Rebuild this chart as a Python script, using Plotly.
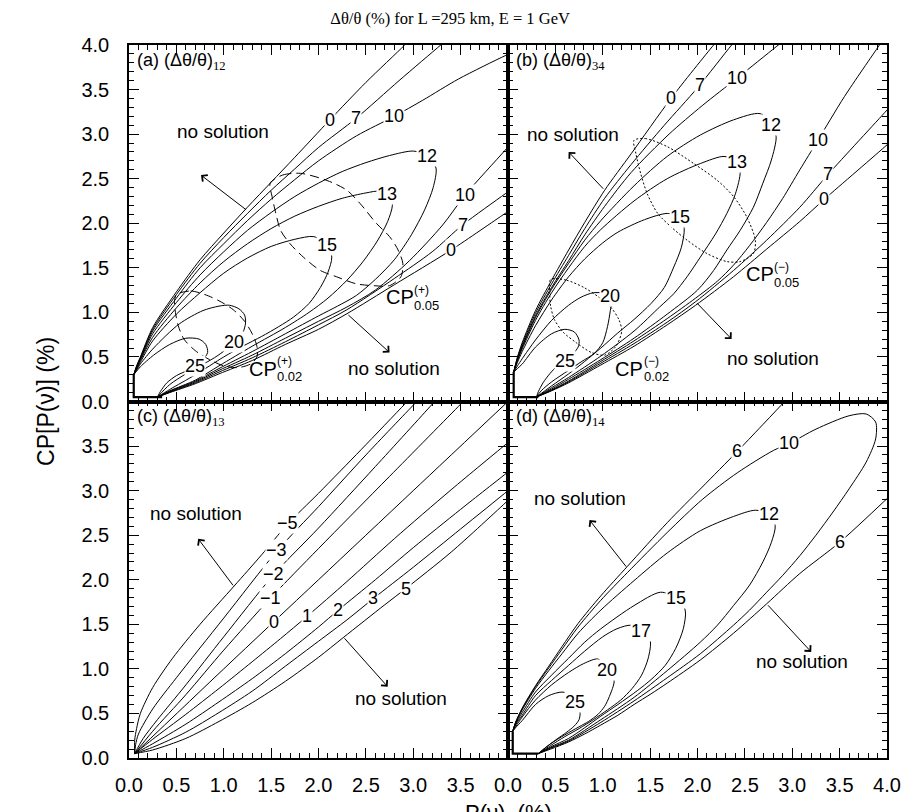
import plotly.graph_objects as go
from plotly.subplots import make_subplots

SANS = "Liberation Sans"
SERIF = "Liberation Serif"

# ---------------- panel (a): (Δθ/θ)12 ----------------
a_up0_x = [0.05, 0.08, 0.12, 0.25, 0.50, 0.75, 1.00, 1.25, 1.50, 1.75, 2.12, 2.50, 2.91, 3.00]
a_up0_y = [0.30, 0.40, 0.50, 0.83, 1.23, 1.59, 1.89, 2.18, 2.46, 2.74, 3.16, 3.58, 4.00, 4.10]
a_up7_x = [0.05, 0.08, 0.12, 0.25, 0.50, 0.75, 1.00, 1.25, 1.50, 1.75, 2.00, 2.40, 2.85, 3.29, 3.40]
a_up7_y = [0.30, 0.39, 0.49, 0.81, 1.20, 1.55, 1.84, 2.11, 2.37, 2.61, 2.85, 3.18, 3.60, 4.00, 4.10]
a_up10_x = [0.05, 0.08, 0.12, 0.25, 0.50, 0.75, 1.00, 1.25, 1.50, 1.75, 2.00, 2.40, 2.80, 3.10, 3.48, 3.97, 4.10]
a_up10_y = [0.30, 0.39, 0.48, 0.79, 1.16, 1.50, 1.77, 2.03, 2.27, 2.49, 2.70, 2.98, 3.20, 3.38, 3.62, 3.88, 3.94]
a_lo0_x = [0.30, 0.43, 0.70, 0.95, 1.30, 1.65, 2.00, 2.30, 2.80, 3.40, 3.97, 4.10]
a_lo0_y = [0.05, 0.10, 0.20, 0.31, 0.46, 0.64, 0.81, 0.985, 1.31, 1.70, 2.11, 2.20]
a_lo7_x = [0.30, 0.43, 0.70, 0.95, 1.30, 1.65, 2.00, 2.30, 2.80, 3.20, 3.52, 3.97, 4.10]
a_lo7_y = [0.05, 0.105, 0.21, 0.33, 0.49, 0.67, 0.86, 1.03, 1.38, 1.68, 1.98, 2.33, 2.43]
a_lo10_x = [0.30, 0.43, 0.70, 0.95, 1.30, 1.65, 2.00, 2.30, 2.60, 2.96, 3.31, 3.55, 3.97, 4.10]
a_lo10_y = [0.05, 0.11, 0.22, 0.35, 0.52, 0.71, 0.90, 1.06, 1.25, 1.58, 1.98, 2.32, 2.82, 2.98]
a_12_x = [0.05, 0.08, 0.12, 0.25, 0.50, 0.75, 1.00, 1.25, 1.50, 1.75, 2.00, 2.25, 2.50, 2.75, 3.00, 3.15,
          3.24, 3.21, 3.12, 2.98, 2.80, 2.60, 2.40, 2.20, 2.00, 1.65, 1.30, 0.95, 0.70, 0.43, 0.30]
a_12_y = [0.30, 0.38, 0.47, 0.76, 1.11, 1.42, 1.68, 1.92, 2.12, 2.30, 2.45, 2.58, 2.68, 2.76, 2.81, 2.76,
          2.62, 2.40, 2.15, 1.87, 1.59, 1.37, 1.19, 1.07, 0.96, 0.76, 0.56, 0.37, 0.23, 0.115, 0.05]
a_13_x = [0.05, 0.08, 0.12, 0.25, 0.50, 0.75, 1.00, 1.25, 1.50, 1.75, 2.00, 2.25, 2.50, 2.65, 2.76,
          2.78, 2.73, 2.62, 2.47, 2.30, 2.10, 1.90, 1.65, 1.30, 0.95, 0.70, 0.43, 0.30]
a_13_y = [0.30, 0.37, 0.46, 0.72, 1.05, 1.33, 1.57, 1.77, 1.94, 2.08, 2.19, 2.28, 2.34, 2.36, 2.30,
          2.20, 2.02, 1.80, 1.57, 1.36, 1.16, 1.00, 0.83, 0.62, 0.40, 0.24, 0.12, 0.05]
a_15_x = [0.05, 0.08, 0.12, 0.25, 0.50, 0.75, 1.00, 1.25, 1.50, 1.75, 1.95, 2.09, 2.14, 2.10, 2.02,
          1.90, 1.74, 1.58, 1.40, 1.20, 1.00, 0.70, 0.43, 0.30]
a_15_y = [0.30, 0.36, 0.44, 0.68, 0.98, 1.22, 1.44, 1.61, 1.74, 1.82, 1.85, 1.76, 1.62, 1.45, 1.28,
          1.10, 0.95, 0.84, 0.73, 0.62, 0.50, 0.30, 0.135, 0.05]
a_20_x = [0.05, 0.08, 0.12, 0.26, 0.53, 0.78, 0.95, 1.06, 1.16, 1.22, 1.23, 1.20, 1.11, 1.02, 0.90,
          0.75, 0.60, 0.43, 0.30]
a_20_y = [0.30, 0.35, 0.42, 0.60, 0.87, 1.02, 1.07, 1.08, 1.04, 0.97, 0.88, 0.77, 0.67, 0.58, 0.49,
          0.40, 0.31, 0.19, 0.05]
a_25_x = [0.05, 0.08, 0.12, 0.26, 0.43, 0.60, 0.74, 0.81, 0.83, 0.78, 0.70, 0.62, 0.50, 0.40, 0.33, 0.30]
a_25_y = [0.30, 0.34, 0.39, 0.52, 0.64, 0.71, 0.70, 0.64, 0.55, 0.47, 0.40, 0.35, 0.29, 0.21, 0.11, 0.05]
a_corner_x = [0.35, 0.05, 0.05]
a_corner_y = [0.05, 0.05, 0.30]
a_cp05_x = [1.49, 1.62, 1.81, 2.09, 2.30, 2.44, 2.61, 2.75, 2.84, 2.89, 2.87, 2.75, 2.58, 2.40, 2.19,
            2.02, 1.84, 1.70, 1.60, 1.55, 1.51, 1.49]
a_cp05_y = [2.45, 2.54, 2.56, 2.48, 2.37, 2.22, 2.00, 1.85, 1.70, 1.55, 1.40, 1.30, 1.30, 1.32, 1.40,
            1.47, 1.62, 1.77, 1.92, 2.11, 2.30, 2.45]
a_cp02_x = [0.50, 0.65, 0.80, 0.95, 1.10, 1.22, 1.30, 1.35, 1.35, 1.28, 1.15, 1.00, 0.85, 0.70, 0.58,
            0.52, 0.49, 0.48, 0.50]
a_cp02_y = [1.20, 1.24, 1.20, 1.13, 1.03, 0.90, 0.76, 0.62, 0.50, 0.42, 0.38, 0.40, 0.47, 0.57, 0.70,
            0.85, 1.00, 1.12, 1.20]
a_lab_text = ["0", "7", "10", "12", "13", "15", "10", "7", "0", "20", "25"]
a_lab_x = [2.12, 2.40, 2.80, 3.15, 2.72, 2.09, 3.55, 3.52, 3.40, 1.11, 0.70]
a_lab_y = [3.16, 3.18, 3.20, 2.76, 2.33, 1.76, 2.32, 1.98, 1.70, 0.67, 0.40]

# ---------------- panel (b): (Δθ/θ)34 ----------------
b_up0_x = [0.06, 0.10, 0.15, 0.29, 0.46, 0.64, 0.81, 1.02, 1.30, 1.72, 2.17, 2.25]
b_up0_y = [0.33, 0.50, 0.66, 1.02, 1.36, 1.70, 2.01, 2.37, 2.78, 3.40, 4.00, 4.10]
b_up7_x = [0.06, 0.10, 0.15, 0.29, 0.46, 0.64, 0.81, 1.02, 1.30, 1.65, 2.00, 2.36, 2.44]
b_up7_y = [0.33, 0.49, 0.64, 0.99, 1.32, 1.64, 1.94, 2.28, 2.66, 3.10, 3.52, 4.00, 4.10]
b_up10_x = [0.06, 0.10, 0.15, 0.29, 0.46, 0.64, 0.81, 1.02, 1.30, 1.70, 2.05, 2.42, 2.83, 2.95]
b_up10_y = [0.33, 0.48, 0.62, 0.96, 1.28, 1.58, 1.87, 2.19, 2.57, 3.00, 3.32, 3.63, 3.98, 4.08]
b_lo0_x = [0.30, 0.46, 0.64, 0.98, 1.33, 1.68, 1.98, 2.38, 2.73, 3.08, 3.34, 4.00, 4.10]
b_lo0_y = [0.05, 0.12, 0.21, 0.41, 0.62, 0.86, 1.08, 1.40, 1.71, 2.02, 2.27, 2.88, 2.98]
b_lo7_x = [0.30, 0.46, 0.64, 0.98, 1.33, 1.68, 1.98, 2.38, 2.73, 3.08, 3.38, 4.00, 4.10]
b_lo7_y = [0.05, 0.125, 0.22, 0.43, 0.65, 0.89, 1.12, 1.47, 1.81, 2.18, 2.55, 3.27, 3.39]
b_lo10_x = [0.30, 0.46, 0.64, 0.98, 1.33, 1.68, 1.98, 2.21, 2.38, 2.55, 2.73, 2.90, 3.08, 3.27, 3.55, 3.92, 4.00]
b_lo10_y = [0.05, 0.13, 0.23, 0.45, 0.68, 0.93, 1.16, 1.35, 1.53, 1.75, 2.01, 2.28, 2.60, 2.93, 3.42, 4.00, 4.13]
b_12_x = [0.06, 0.10, 0.15, 0.29, 0.46, 0.64, 0.81, 0.98, 1.33, 1.68, 2.03, 2.38, 2.66, 2.78, 2.83,
          2.78, 2.69, 2.59, 2.45, 2.31, 2.17, 2.00, 1.68, 1.33, 0.98, 0.64, 0.46, 0.30]
b_12_y = [0.33, 0.47, 0.61, 0.94, 1.26, 1.55, 1.81, 2.03, 2.42, 2.75, 2.99, 3.16, 3.23, 3.12, 2.97,
          2.71, 2.45, 2.18, 1.92, 1.70, 1.47, 1.25, 0.98, 0.71, 0.47, 0.25, 0.14, 0.05]
b_13_x = [0.06, 0.10, 0.15, 0.29, 0.46, 0.64, 0.81, 0.98, 1.33, 1.68, 2.03, 2.28, 2.40, 2.45, 2.40,
          2.31, 2.19, 2.03, 1.89, 1.75, 1.60, 1.33, 0.98, 0.64, 0.46, 0.30]
b_13_y = [0.33, 0.46, 0.59, 0.91, 1.22, 1.50, 1.74, 1.93, 2.25, 2.50, 2.67, 2.75, 2.70, 2.58, 2.33,
          2.11, 1.88, 1.62, 1.40, 1.21, 1.06, 0.79, 0.51, 0.27, 0.155, 0.05]
b_15_x = [0.06, 0.10, 0.15, 0.29, 0.46, 0.64, 0.81, 1.00, 1.16, 1.44, 1.68, 1.82, 1.86, 1.83, 1.75,
          1.65, 1.51, 1.33, 1.16, 0.98, 0.81, 0.64, 0.46, 0.30]
b_15_y = [0.33, 0.44, 0.56, 0.85, 1.14, 1.40, 1.60, 1.78, 1.90, 2.04, 2.11, 2.07, 1.94, 1.73, 1.51,
          1.28, 1.10, 0.92, 0.77, 0.60, 0.45, 0.31, 0.175, 0.05]
b_20_x = [0.06, 0.10, 0.15, 0.29, 0.46, 0.64, 0.77, 0.90, 1.02, 1.09, 1.08, 1.05, 1.00, 0.91, 0.78,
          0.64, 0.46, 0.35, 0.30]
b_20_y = [0.33, 0.40, 0.48, 0.69, 0.91, 1.08, 1.17, 1.22, 1.21, 1.13, 1.02, 0.84, 0.66, 0.54, 0.45,
          0.35, 0.22, 0.12, 0.05]
b_25_x = [0.06, 0.10, 0.15, 0.29, 0.46, 0.60, 0.70, 0.75, 0.74, 0.68, 0.60, 0.52, 0.44, 0.37, 0.32, 0.30]
b_25_y = [0.33, 0.37, 0.42, 0.61, 0.76, 0.81, 0.78, 0.69, 0.61, 0.53, 0.46, 0.40, 0.31, 0.21, 0.11, 0.05]
b_corner_x = [0.32, 0.06, 0.06]
b_corner_y = [0.05, 0.05, 0.33]
b_cp05_x = [1.33, 1.45, 1.68, 1.96, 2.21, 2.38, 2.52, 2.61, 2.59, 2.45, 2.31, 2.10, 1.89, 1.72, 1.58,
            1.47, 1.40, 1.35, 1.33]
b_cp05_y = [2.93, 2.95, 2.86, 2.67, 2.48, 2.30, 2.07, 1.81, 1.66, 1.57, 1.57, 1.66, 1.81, 1.96, 2.11,
            2.33, 2.56, 2.78, 2.93]
b_cp02_x = [0.45, 0.62, 0.80, 0.96, 1.09, 1.17, 1.20, 1.14, 1.02, 0.88, 0.72, 0.58, 0.49, 0.45, 0.44, 0.45]
b_cp02_y = [1.37, 1.36, 1.28, 1.17, 1.05, 0.92, 0.79, 0.62, 0.52, 0.55, 0.66, 0.78, 0.92, 1.07, 1.22, 1.37]
b_lab_text = ["0", "7", "10", "12", "13", "15", "20", "25", "10", "7", "0"]
b_lab_x = [1.72, 2.03, 2.42, 2.78, 2.42, 1.82, 1.08, 0.60, 3.27, 3.38, 3.34]
b_lab_y = [3.40, 3.55, 3.63, 3.10, 2.69, 2.07, 1.18, 0.46, 2.93, 2.55, 2.27]

# ---------------- panel (c): (Δθ/θ)13 ----------------
c_m5_x = [0.06, 0.06, 0.08, 0.12, 0.25, 0.46, 0.75, 1.11, 1.40, 1.67, 2.00, 2.45, 2.91, 3.00]
c_m5_y = [0.05, 0.20, 0.33, 0.50, 0.79, 1.12, 1.50, 1.93, 2.28, 2.62, 2.97, 3.46, 3.97, 4.07]
c_m3_x = [0.06, 0.07, 0.10, 0.25, 0.50, 1.00, 1.56, 2.00, 2.50, 3.01, 3.10]
c_m3_y = [0.05, 0.15, 0.27, 0.55, 0.90, 1.57, 2.32, 2.82, 3.40, 3.97, 4.07]
c_m2_x = [0.06, 0.15, 0.30, 0.60, 1.00, 1.53, 2.00, 2.60, 3.20, 3.30]
c_m2_y = [0.05, 0.22, 0.43, 0.82, 1.36, 2.06, 2.58, 3.27, 3.97, 4.09]
c_m1_x = [0.06, 0.25, 0.60, 1.00, 1.49, 2.00, 2.75, 3.50, 3.60]
c_m1_y = [0.05, 0.30, 0.71, 1.21, 1.79, 2.35, 3.16, 3.97, 4.08]
c_0_x = [0.06, 1.00, 2.00, 3.00, 4.05]
c_0_y = [0.05, 1.00, 2.00, 3.00, 4.05]
c_1_x = [0.06, 0.25, 0.60, 0.95, 1.30, 1.60, 1.88, 2.30, 2.80, 3.40, 4.00, 4.10]
c_1_y = [0.05, 0.21, 0.49, 0.78, 1.08, 1.34, 1.59, 1.98, 2.46, 3.01, 3.54, 3.63]
c_2_x = [0.06, 0.25, 0.60, 0.95, 1.30, 1.65, 2.00, 2.21, 2.60, 3.00, 3.50, 4.00, 4.10]
c_2_y = [0.05, 0.16, 0.38, 0.63, 0.89, 1.17, 1.47, 1.66, 2.00, 2.36, 2.79, 3.21, 3.30]
c_3_x = [0.06, 0.25, 0.60, 0.95, 1.30, 1.65, 2.00, 2.30, 2.58, 3.00, 3.50, 4.00, 4.10]
c_3_y = [0.05, 0.12, 0.29, 0.51, 0.75, 1.03, 1.31, 1.55, 1.79, 2.14, 2.57, 3.00, 3.09]
c_5_x = [0.06, 0.25, 0.60, 0.95, 1.30, 1.65, 2.00, 2.26, 2.70, 2.92, 3.40, 4.00, 4.10]
c_5_y = [0.05, 0.09, 0.22, 0.41, 0.62, 0.86, 1.13, 1.35, 1.72, 1.90, 2.31, 2.89, 2.99]
c_lab_text = ["\u22125", "\u22123", "\u22122", "\u22121", "0", "1", "2", "3", "5"]
c_lab_x = [1.67, 1.56, 1.53, 1.49, 1.53, 1.88, 2.21, 2.58, 2.92]
c_lab_y = [2.64, 2.33, 2.07, 1.80, 1.53, 1.59, 1.66, 1.79, 1.90]

# ---------------- panel (d): (Δθ/θ)14 ----------------
d_up6_x = [0.05, 0.08, 0.15, 0.29, 0.43, 0.57, 0.74, 0.98, 1.26, 1.68, 2.05, 2.42, 2.92, 3.00]
d_up6_y = [0.30, 0.40, 0.56, 0.81, 1.03, 1.25, 1.51, 1.82, 2.15, 2.64, 3.04, 3.44, 4.00, 4.09]
d_lo6_x = [0.32, 0.45, 0.64, 0.81, 0.98, 1.16, 1.33, 1.51, 1.68, 2.03, 2.38, 2.73, 3.08, 3.50, 4.00, 4.10]
d_lo6_y = [0.05, 0.10, 0.18, 0.27, 0.37, 0.48, 0.60, 0.72, 0.84, 1.10, 1.40, 1.73, 2.07, 2.42, 2.91, 3.01]
d_10_x = [0.05, 0.08, 0.15, 0.29, 0.43, 0.57, 0.74, 0.98, 1.26, 1.68, 2.05, 2.42, 2.80, 2.97, 3.25,
          3.60, 3.78, 3.88, 3.88, 3.78, 3.60, 3.43, 3.25, 3.08, 2.90, 2.73, 2.55, 2.38, 2.03, 1.68,
          1.33, 0.98, 0.64, 0.45, 0.32]
d_10_y = [0.30, 0.40, 0.55, 0.80, 1.01, 1.22, 1.47, 1.77, 2.08, 2.53, 2.90, 3.20, 3.45, 3.53, 3.69,
          3.84, 3.86, 3.77, 3.58, 3.32, 3.02, 2.76, 2.50, 2.27, 2.05, 1.86, 1.66, 1.49, 1.17, 0.90,
          0.64, 0.40, 0.19, 0.11, 0.05]
d_12_x = [0.05, 0.08, 0.15, 0.29, 0.43, 0.57, 0.74, 0.98, 1.33, 1.68, 2.03, 2.38, 2.61, 2.75, 2.82,
          2.78, 2.69, 2.55, 2.38, 2.21, 2.03, 1.68, 1.33, 0.98, 0.64, 0.45, 0.32]
d_12_y = [0.30, 0.39, 0.54, 0.78, 0.98, 1.17, 1.40, 1.66, 1.99, 2.30, 2.55, 2.71, 2.78, 2.74, 2.61,
          2.42, 2.20, 1.94, 1.71, 1.49, 1.30, 0.98, 0.68, 0.43, 0.20, 0.115, 0.05]
d_15_x = [0.05, 0.08, 0.15, 0.29, 0.46, 0.64, 0.81, 0.98, 1.33, 1.61, 1.77, 1.87, 1.85, 1.77, 1.66,
          1.51, 1.37, 1.16, 0.98, 0.81, 0.64, 0.45, 0.32]
d_15_y = [0.30, 0.38, 0.51, 0.74, 0.93, 1.12, 1.30, 1.45, 1.71, 1.86, 1.80, 1.66, 1.45, 1.23, 1.04,
          0.88, 0.76, 0.60, 0.47, 0.34, 0.22, 0.125, 0.05]
d_17_x = [0.05, 0.08, 0.15, 0.29, 0.46, 0.64, 0.81, 1.00, 1.15, 1.30, 1.40, 1.50, 1.48, 1.41, 1.31,
          1.19, 1.05, 0.90, 0.75, 0.60, 0.45, 0.32]
d_17_y = [0.30, 0.37, 0.48, 0.70, 0.87, 1.04, 1.20, 1.36, 1.45, 1.49, 1.43, 1.32, 1.12, 0.93, 0.78,
          0.65, 0.54, 0.43, 0.33, 0.24, 0.14, 0.05]
d_20_x = [0.05, 0.08, 0.15, 0.29, 0.46, 0.64, 0.80, 0.95, 1.05, 1.12, 1.07, 1.02, 0.95, 0.85, 0.75,
          0.60, 0.45, 0.32]
d_20_y = [0.30, 0.35, 0.46, 0.65, 0.82, 0.96, 1.06, 1.11, 0.99, 0.87, 0.69, 0.58, 0.49, 0.41, 0.35,
          0.26, 0.16, 0.05]
d_25_x = [0.05, 0.08, 0.15, 0.29, 0.43, 0.57, 0.66, 0.71, 0.76, 0.75, 0.70, 0.62, 0.50, 0.40, 0.32]
d_25_y = [0.30, 0.34, 0.42, 0.60, 0.70, 0.74, 0.71, 0.63, 0.52, 0.43, 0.36, 0.29, 0.20, 0.12, 0.05]
d_corner_x = [0.32, 0.05, 0.05]
d_corner_y = [0.05, 0.05, 0.30]
d_lab_text = ["6", "10", "12", "6", "15", "17", "20", "25"]
d_lab_x = [2.42, 2.97, 2.75, 3.50, 1.77, 1.40, 1.05, 0.71]
d_lab_y = [3.44, 3.53, 2.74, 2.42, 1.80, 1.43, 0.99, 0.63]

# "no solution" notes and their arrows (tail -> head)
note_panel = ["a", "a", "b", "b", "c", "c", "d", "d"]
note_x = [0.99, 2.80, 0.69, 2.80, 0.71, 2.87, 0.76, 3.10]
note_y = [3.03, 0.37, 3.00, 0.48, 2.74, 0.67, 2.91, 1.08]
arrow_tail_x = [1.25, 2.30, 1.02, 1.98, 1.11, 2.26, 1.26, 2.73]
arrow_tail_y = [2.14, 0.985, 2.37, 1.12, 1.92, 1.36, 2.13, 1.73]
arrow_head_x = [0.76, 2.75, 0.64, 2.36, 0.73, 2.73, 0.86, 3.20]
arrow_head_y = [2.54, 0.55, 2.80, 0.70, 2.46, 0.80, 2.67, 1.19]

TICK_VALS = [0.0, 0.5, 1.0, 1.5, 2.0, 2.5, 3.0, 3.5, 4.0]
TICK_TEXT = ["0.0", "0.5", "1.0", "1.5", "2.0", "2.5", "3.0", "3.5", "4.0"]

fig = make_subplots(rows=2, cols=2, horizontal_spacing=0, vertical_spacing=0)
CELL = {"a": (1, 1), "b": (1, 2), "c": (2, 1), "d": (2, 2)}
AX = {"a": ("x", "y"), "b": ("x2", "y2"), "c": ("x3", "y3"), "d": ("x4", "y4")}


def add_line(panel, xs, ys, dash="solid", width=1.0, smooth=True):
    r, c = CELL[panel]
    fig.add_trace(go.Scatter(
        x=xs, y=ys, mode="lines", hoverinfo="skip", showlegend=False,
        line=dict(color="black", width=width, dash=dash,
                  shape="spline" if smooth else "linear", smoothing=0.8)),
        row=r, col=c)


solid = [
    ("a", a_up0_x, a_up0_y), ("a", a_up7_x, a_up7_y), ("a", a_up10_x, a_up10_y),
    ("a", a_lo0_x, a_lo0_y), ("a", a_lo7_x, a_lo7_y), ("a", a_lo10_x, a_lo10_y),
    ("a", a_12_x, a_12_y), ("a", a_13_x, a_13_y), ("a", a_15_x, a_15_y),
    ("a", a_20_x, a_20_y), ("a", a_25_x, a_25_y),
    ("b", b_up0_x, b_up0_y), ("b", b_up7_x, b_up7_y), ("b", b_up10_x, b_up10_y),
    ("b", b_lo0_x, b_lo0_y), ("b", b_lo7_x, b_lo7_y), ("b", b_lo10_x, b_lo10_y),
    ("b", b_12_x, b_12_y), ("b", b_13_x, b_13_y), ("b", b_15_x, b_15_y),
    ("b", b_20_x, b_20_y), ("b", b_25_x, b_25_y),
    ("c", c_m5_x, c_m5_y), ("c", c_m3_x, c_m3_y), ("c", c_m2_x, c_m2_y), ("c", c_m1_x, c_m1_y),
    ("c", c_0_x, c_0_y), ("c", c_1_x, c_1_y), ("c", c_2_x, c_2_y), ("c", c_3_x, c_3_y),
    ("c", c_5_x, c_5_y),
    ("d", d_up6_x, d_up6_y), ("d", d_lo6_x, d_lo6_y), ("d", d_10_x, d_10_y), ("d", d_12_x, d_12_y),
    ("d", d_15_x, d_15_y), ("d", d_17_x, d_17_y), ("d", d_20_x, d_20_y), ("d", d_25_x, d_25_y),
]
for p, xs, ys in solid:
    add_line(p, xs, ys)

for p, xs, ys in [("a", a_corner_x, a_corner_y), ("b", b_corner_x, b_corner_y),
                  ("d", d_corner_x, d_corner_y)]:
    add_line(p, xs, ys, width=2.2, smooth=False)

add_line("a", a_cp05_x, a_cp05_y, dash="9px,5px")
add_line("a", a_cp02_x, a_cp02_y, dash="9px,5px")
add_line("b", b_cp05_x, b_cp05_y, dash="2px,2px")
add_line("b", b_cp02_x, b_cp02_y, dash="2px,2px")


def add_text(panel, text, x, y, size=18, bg="white", family=SANS, **kw):
    xr, yr = AX[panel]
    fig.add_annotation(x=x, y=y, xref=xr, yref=yr, text=text, showarrow=False,
                       font=dict(family=family, size=size, color="black"),
                       bgcolor=bg, borderpad=0, **kw)


for p, texts, xs, ys in [("a", a_lab_text, a_lab_x, a_lab_y), ("b", b_lab_text, b_lab_x, b_lab_y),
                         ("c", c_lab_text, c_lab_x, c_lab_y), ("d", d_lab_text, d_lab_x, d_lab_y)]:
    for t, x, y in zip(texts, xs, ys):
        add_text(p, t, x, y)

for p, x, y in zip(note_panel, note_x, note_y):
    add_text(p, "no solution", x, y, size=19, bg="rgba(0,0,0,0)")

for p, tx, ty, hx, hy in zip(note_panel, arrow_tail_x, arrow_tail_y, arrow_head_x, arrow_head_y):
    xr, yr = AX[p]
    fig.add_annotation(x=hx, y=hy, ax=tx, ay=ty, xref=xr, yref=yr, axref=xr, ayref=yr,
                       text="", showarrow=True, arrowhead=4, arrowsize=1.6, arrowwidth=1,
                       arrowcolor="black", standoff=0, startstandoff=0)

# CP boundary tags: "CP" with stacked sign (top) and level (bottom)
cp_tags = [("a", "(+)", "0.05", 2.86, 1.17), ("a", "(+)", "0.02", 1.41, 0.37),
           ("b", "(\u2212)", "0.05", 2.66, 1.43), ("b", "(\u2212)", "0.02", 1.28, 0.37)]
for p, sign, level, x, y in cp_tags:
    add_text(p, "CP", x, y, size=20, bg="rgba(0,0,0,0)")
    add_text(p, sign, x + 0.14, y + 0.08, size=12, bg="rgba(0,0,0,0)", xanchor="left")
    add_text(p, level, x + 0.14, y - 0.09, size=13, bg="rgba(0,0,0,0)", xanchor="left")

# panel headers
for p, tag, sub in [("a", "(a)", "12"), ("b", "(b)", "34"), ("c", "(c)", "13"), ("d", "(d)", "14")]:
    add_text(p, f"{tag} (\u0394\u03b8/\u03b8)<sub><span style='font-family:{SERIF}'>{sub}</span></sub>",
             0.07, 3.82, size=18, bg="rgba(0,0,0,0)", xanchor="left")

axis_common = dict(
    range=[0, 4], showgrid=False, zeroline=False, showline=True, linecolor="black", linewidth=1.5,
    mirror="allticks", ticks="inside", ticklen=10, tickwidth=1, tickcolor="black",
    tickmode="array", tickvals=TICK_VALS, ticktext=TICK_TEXT,
    tickfont=dict(family=SANS, size=20, color="black"),
    minor=dict(tickmode="linear", tick0=0, dtick=0.1, ticks="inside", ticklen=5,
               tickwidth=1, tickcolor="black", showgrid=False),
)
fig.update_xaxes(**axis_common, ticklabelstandoff=8)
fig.update_yaxes(**axis_common, ticklabelstandoff=14)

fig.update_layout(
    xaxis=dict(showticklabels=False), xaxis2=dict(showticklabels=False),
    xaxis3=dict(ticktext=TICK_TEXT[:-1] + [""]), xaxis4=dict(ticktext=TICK_TEXT),
    yaxis=dict(ticktext=TICK_TEXT), yaxis3=dict(ticktext=TICK_TEXT[:-1] + [""]),
    yaxis2=dict(showticklabels=False), yaxis4=dict(showticklabels=False),
)

fig.add_annotation(xref="paper", yref="paper", x=0.5, y=-0.056, yanchor="top",
                   text="P(\u03bd)  (%)", showarrow=False,
                   font=dict(family=SANS, size=22, color="black"))
fig.add_annotation(xref="paper", yref="paper", x=-0.13, y=0.5, textangle=-90,
                   text="CP[P(\u03bd)] (%)", showarrow=False,
                   font=dict(family=SANS, size=23, color="black"))

fig.update_layout(
    width=913, height=812,
    margin=dict(l=129, r=20, t=45, b=54),
    paper_bgcolor="white", plot_bgcolor="white",
    title=dict(text="\u0394\u03b8/\u03b8 (%) for L =295 km, E = 1 GeV", x=0.493, xanchor="center",
               y=0.978, yanchor="middle", font=dict(family=SERIF, size=16.5, color="black")),
    showlegend=False,
)

fig.write_html("out.html")
